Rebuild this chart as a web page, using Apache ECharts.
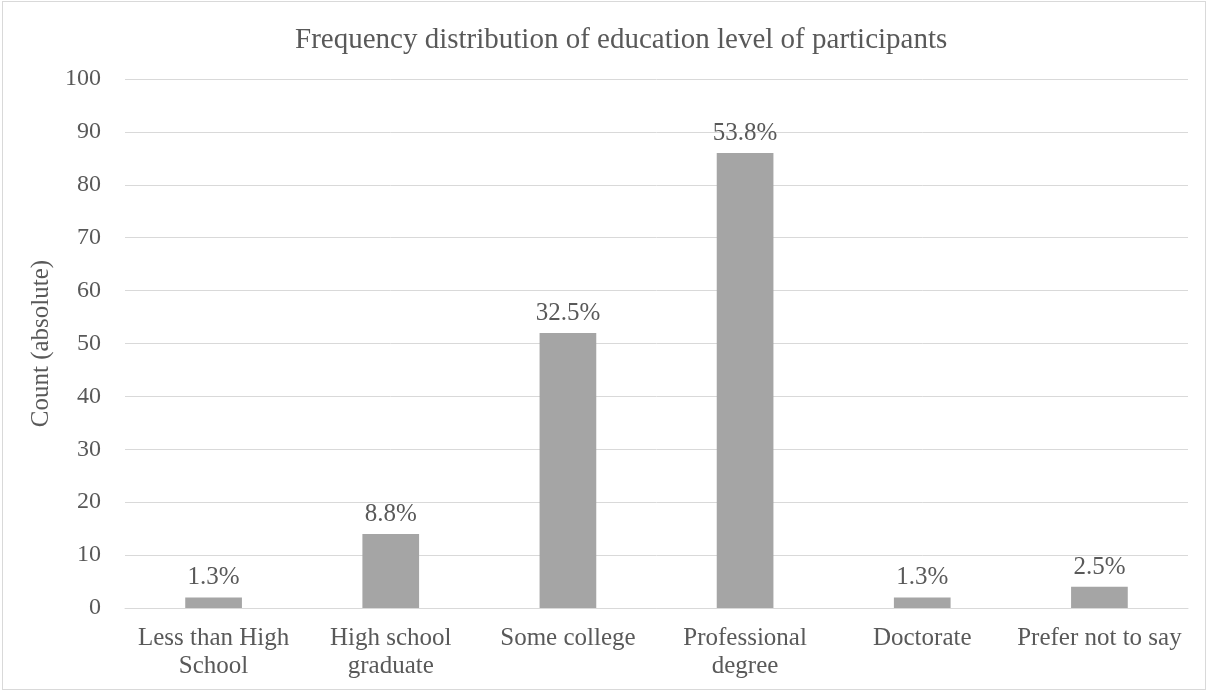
<!DOCTYPE html>
<html>
<head>
<meta charset="utf-8">
<script src="https://cdn.jsdelivr.net/npm/echarts@6/dist/echarts.min.js"></script>
<style>
  html, body { margin: 0; padding: 0; background: #fff; }
  #frame { position: absolute; left: 2px; top: 1px; width: 1204px; height: 689px; border: 1px solid #d9d9d9; box-sizing: border-box; }
  #chart { width: 1210px; height: 693px; }
</style>
</head>
<body>
<div id="frame"></div>
<div id="chart"></div>
<script>
// Education levels and participant counts (n = 160)
const categories = ['Less than High\nSchool', 'High school\ngraduate', 'Some college', 'Professional\ndegree', 'Doctorate', 'Prefer not to say'];
const counts = [2, 14, 52, 86, 2, 4];
const yTicks = [0, 10, 20, 30, 40, 50, 60, 70, 80, 90, 100];

const total = counts.reduce((a, b) => a + b, 0);
const shares = counts.map(c => (c / total * 100));

const textColor = '#595959';
const font = '"Liberation Serif", "Times New Roman", serif';

const chart = echarts.init(document.getElementById('chart'), null, { renderer: 'canvas' });
chart.setOption({
  animation: false,
  textStyle: { fontFamily: font },
  title: {
    text: 'Frequency distribution of education level of participants',
    left: 290,
    top: 21,
    textStyle: { fontFamily: font, fontSize: 29, fontWeight: 'normal', color: textColor }
  },
  grid: { left: 125, right: 22, top: 79, bottom: 85, containLabel: false },
  xAxis: {
    type: 'category',
    data: categories,
    axisTick: { show: false },
    axisLine: { lineStyle: { color: '#d9d9d9', width: 1 } },
    axisLabel: { color: textColor, fontSize: 25, fontFamily: font, margin: 16, lineHeight: 28, interval: 0 }
  },
  yAxis: {
    type: 'value',
    min: yTicks[0],
    max: yTicks[yTicks.length - 1],
    interval: 10,
    name: 'Count (absolute)',
    nameLocation: 'middle',
    nameGap: 59,
    nameTextStyle: { color: textColor, fontSize: 25, fontFamily: font },
    axisLine: { show: false },
    axisTick: { show: false },
    axisLabel: { color: textColor, fontSize: 24, fontFamily: font, margin: 24 },
    splitLine: { lineStyle: { color: '#d9d9d9', width: 1 } }
  },
  series: [{
    type: 'bar',
    data: counts,
    barWidth: '32%',
    itemStyle: { color: '#a5a5a5' },
    label: {
      show: true,
      position: 'top',
      distance: 7,
      color: textColor,
      fontSize: 25,
      fontFamily: font,
      formatter: p => shares[p.dataIndex].toFixed(1) + '%'
    }
  }]
});
</script>
</body>
</html>
